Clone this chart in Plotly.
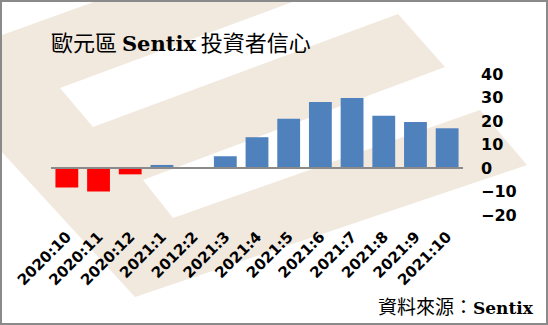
import plotly.graph_objects as go

# ---- data ----
categories = ["2020:10", "2020:11", "2020:12", "2021:1", "2012:2", "2021:3", "2021:4",
              "2021:5", "2021:6", "2021:7", "2021:8", "2021:9", "2021:10"]
values = [-8.3, -10.0, -2.7, 1.3, -0.2, 5.0, 13.1, 21.0, 28.1, 29.8, 22.2, 19.6, 16.9]
y_ticks = [-20, -10, 0, 10, 20, 30, 40]
title_text = '歐元區 <span style="font-family:DejaVu Serif;font-size:21px"><b>Sentix</b></span> 投資者信心'
source_text = '資料來源：<span style="font-family:DejaVu Serif;font-size:17px"><b>Sentix</b></span>'

# ---- layout geometry (pixels) ----
W, H = 548, 325
ML, MR, MT, MB = 51, 85, 74, 110
PW, PH = W - ML - MR, H - MT - MB


def px(x, y):
    return (x - ML) / PW, (H - MB - y) / PH


bar_colors = ["#ff0000" if v < 0 else "#4f81bd" for v in values]

fig = go.Figure(go.Bar(x=categories, y=values, marker=dict(color=bar_colors, line_width=0)))

# watermark "E" shape (decorative background)
wm = [(-79, 64), (400, -108), (440, -52.6), (60, 88), (93, 127), (398, 14), (445, 67),
      (143, 180), (173, 218), (480, 110), (527, 165), (135, 297)]
path = "M " + " L ".join("{:.4f},{:.4f}".format(*px(x, y)) for x, y in wm) + " Z"

bx0, by0 = px(1, 324)
bx1, by1 = px(547, 1)

fig.update_layout(
    width=W, height=H,
    margin=dict(l=ML, r=MR, t=MT, b=MB, pad=0),
    paper_bgcolor="white",
    plot_bgcolor="rgba(0,0,0,0)",
    showlegend=False,
    bargap=0.28,
    shapes=[
        dict(type="path", path=path, xref="paper", yref="paper",
             fillcolor="#f1e8de", line=dict(width=0), layer="below"),
        dict(type="line", xref="paper", yref="y", x0=0, x1=1, y0=0, y1=0,
             line=dict(color="#8a8a8a", width=2), layer="above"),
        dict(type="rect", xref="paper", yref="paper", x0=bx0, y0=by0, x1=bx1, y1=by1,
             line=dict(color="#8a8a8a", width=2), fillcolor="rgba(0,0,0,0)", layer="above"),
    ],
    xaxis=dict(
        type="category", range=[-0.5, len(categories) - 0.5],
        showgrid=False, showline=False, zeroline=False, ticks="",
        tickangle=-45, ticklabelstandoff=9,
        tickfont=dict(family="DejaVu Sans", size=15, weight="bold", color="black"),
    ),
    yaxis=dict(
        side="right", range=[-20, 40], tickvals=y_ticks,
        showgrid=False, showline=False, ticks="", zeroline=False,
        ticklabelstandoff=17,
        tickfont=dict(family="DejaVu Sans", size=16, weight="bold", color="black"),
    ),
)

tx, ty = px(49, 41)
fig.add_annotation(text=title_text, xref="paper", yref="paper", x=tx, y=ty,
                   xanchor="left", yanchor="middle", showarrow=False,
                   font=dict(family="Noto Sans CJK TC", size=22, color="black"))
sx, sy = px(536, 305)
fig.add_annotation(text=source_text, xref="paper", yref="paper", x=sx, y=sy,
                   xanchor="right", yanchor="middle", showarrow=False,
                   font=dict(family="Noto Sans CJK TC", size=19, color="black"))

fig.write_html("out.html")
